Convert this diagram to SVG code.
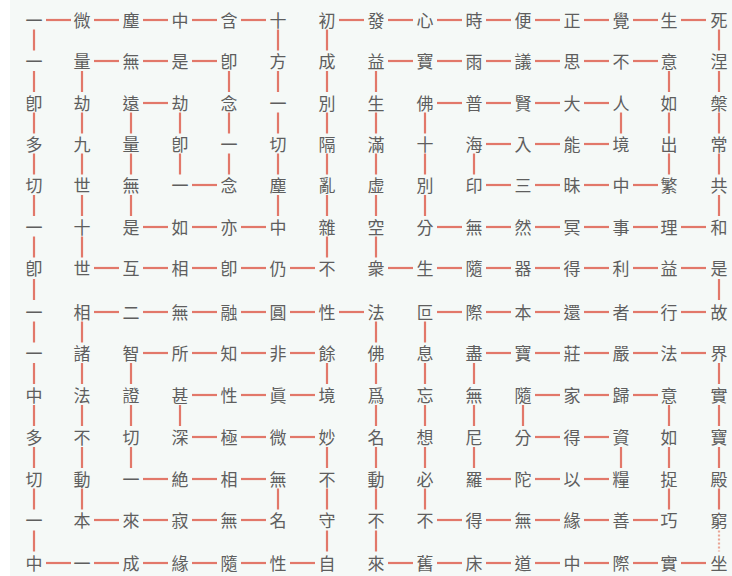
<svg xmlns="http://www.w3.org/2000/svg" width="732" height="576" viewBox="0 0 732 576">
<style>
text{font-family:"Noto Sans CJK TC","Noto Sans CJK SC",sans-serif;font-size:17px;fill:#5e5e5e;text-anchor:middle}
.c path{stroke:#e2786a;stroke-width:2.2;fill:none}
.c path.d{stroke-dasharray:2 2;stroke:#e9a595}
</style>
<rect x="0" y="0" width="732" height="576" fill="#ffffff"/>
<rect x="10" y="0" width="722" height="576" fill="#f5f9f7"/>
<g class="c" id="connectors">
<path d="M94 312h25"/><path d="M143 312h25"/><path d="M192 312h25"/><path d="M241 312h25"/><path d="M290 312h25"/><path d="M339 312h25"/>
<path d="M82 321.5v21"/><path d="M82 363v21"/><path d="M82 405v21"/><path d="M82 447v21"/><path d="M82 488.5v21"/>
<path d="M94 520h25"/><path d="M143 520h25"/><path d="M192 520h25"/><path d="M241 520h25"/>
<path d="M278 488.5v21"/>
<path d="M143 479h25"/><path d="M192 479h25"/><path d="M241 479h25"/>
<path d="M131 363v21"/><path d="M131 405v21"/><path d="M131 447v21"/>
<path d="M143 353h25"/><path d="M192 353h25"/><path d="M241 353h25"/><path d="M290 353h25"/>
<path d="M327 363v21"/>
<path d="M192 395h25"/><path d="M241 395h25"/><path d="M290 395h25"/>
<path d="M180 405v21"/>
<path d="M192 437h25"/><path d="M241 437h25"/><path d="M290 437h25"/>
<path d="M327 447v21"/><path d="M327 488.5v21"/><path d="M327 530.5v21"/>
<path d="M46 563h25"/><path d="M94 563h25"/><path d="M143 563h25"/><path d="M192 563h25"/><path d="M241 563h25"/><path d="M290 563h25"/>
<path d="M34 29.5v21"/><path d="M34 71v21"/><path d="M34 112.5v21"/><path d="M34 153.5v21"/><path d="M34 195v21"/><path d="M34 236.5v21"/><path d="M34 279v21"/><path d="M34 321.5v21"/><path d="M34 363v21"/><path d="M34 405v21"/><path d="M34 447v21"/><path d="M34 488.5v21"/><path d="M34 530.5v21"/>
<path d="M46 20h25"/><path d="M94 20h25"/><path d="M143 20h25"/><path d="M192 20h25"/><path d="M241 20h25"/>
<path d="M278 29.5v21"/><path d="M278 71v21"/><path d="M278 112.5v21"/><path d="M278 153.5v21"/><path d="M278 195v21"/>
<path d="M143 227h25"/><path d="M192 227h25"/><path d="M241 227h25"/>
<path d="M131 112.5v21"/><path d="M131 153.5v21"/><path d="M131 195v21"/>
<path d="M143 103h25"/>
<path d="M180 112.5v21"/><path d="M180 153.5v21"/>
<path d="M192 185h25"/>
<path d="M229 71v21"/><path d="M229 112.5v21"/><path d="M229 153.5v21"/>
<path d="M94 61h25"/><path d="M143 61h25"/><path d="M192 61h25"/>
<path d="M82 71v21"/><path d="M82 112.5v21"/><path d="M82 153.5v21"/><path d="M82 195v21"/><path d="M82 236.5v21"/>
<path d="M94 268h25"/><path d="M143 268h25"/><path d="M192 268h25"/><path d="M241 268h25"/><path d="M290 268h25"/>
<path d="M327 29.5v21"/><path d="M327 71v21"/><path d="M327 112.5v21"/><path d="M327 153.5v21"/><path d="M327 195v21"/><path d="M327 236.5v21"/>
<path d="M339 20h25"/><path d="M388 20h25"/><path d="M437 20h25"/><path d="M486 20h25"/><path d="M535 20h25"/><path d="M584 20h25"/><path d="M633 20h25"/><path d="M681 20h25"/>
<path d="M719 29.5v21"/><path d="M719 71v21"/><path d="M719 112.5v21"/><path d="M719 153.5v21"/><path d="M719 195v21"/>
<path d="M437 227h25"/><path d="M486 227h25"/><path d="M535 227h25"/><path d="M584 227h25"/><path d="M633 227h25"/><path d="M681 227h25"/>
<path d="M425 112.5v21"/><path d="M425 153.5v21"/><path d="M425 195v21"/>
<path d="M437 103h25"/><path d="M486 103h25"/><path d="M535 103h25"/><path d="M584 103h25"/>
<path d="M621 112.5v21"/>
<path d="M486 144h25"/><path d="M535 144h25"/><path d="M584 144h25"/>
<path d="M474 153.5v21"/>
<path d="M486 185h25"/><path d="M535 185h25"/><path d="M584 185h25"/><path d="M633 185h25"/>
<path d="M669 71v21"/><path d="M669 112.5v21"/><path d="M669 153.5v21"/>
<path d="M388 61h25"/><path d="M437 61h25"/><path d="M486 61h25"/><path d="M535 61h25"/><path d="M584 61h25"/><path d="M633 61h25"/>
<path d="M376 71v21"/><path d="M376 112.5v21"/><path d="M376 153.5v21"/><path d="M376 195v21"/><path d="M376 236.5v21"/>
<path d="M388 268h25"/><path d="M437 268h25"/><path d="M486 268h25"/><path d="M535 268h25"/><path d="M584 268h25"/><path d="M633 268h25"/><path d="M681 268h25"/>
<path d="M719 279v21"/>
<path d="M437 312h25"/><path d="M486 312h25"/><path d="M535 312h25"/><path d="M584 312h25"/><path d="M633 312h25"/><path d="M681 312h25"/>
<path d="M425 321.5v21"/><path d="M425 363v21"/><path d="M425 405v21"/><path d="M425 447v21"/><path d="M425 488.5v21"/>
<path d="M437 520h25"/><path d="M486 520h25"/><path d="M535 520h25"/><path d="M584 520h25"/><path d="M633 520h25"/>
<path d="M669 405v21"/><path d="M669 447v21"/><path d="M669 488.5v21"/>
<path d="M535 395h25"/><path d="M584 395h25"/><path d="M633 395h25"/>
<path d="M523 405v21"/>
<path d="M535 437h25"/><path d="M584 437h25"/>
<path d="M621 447v21"/>
<path d="M486 479h25"/><path d="M535 479h25"/><path d="M584 479h25"/>
<path d="M474 363v21"/><path d="M474 405v21"/><path d="M474 447v21"/>
<path d="M486 353h25"/><path d="M535 353h25"/><path d="M584 353h25"/><path d="M633 353h25"/><path d="M681 353h25"/>
<path d="M719 363v21"/><path d="M719 405v21"/><path d="M719 447v21"/><path d="M719 488.5v21"/><path class="d" d="M719 530.5v21"/>
<path d="M388 563h25"/><path d="M437 563h25"/><path d="M486 563h25"/><path d="M535 563h25"/><path d="M584 563h25"/><path d="M633 563h25"/><path d="M681 563h25"/>
<path d="M376 321.5v21"/><path d="M376 363v21"/><path d="M376 405v21"/><path d="M376 447v21"/><path d="M376 488.5v21"/><path d="M376 530.5v21"/>
</g>
<g id="nodes">
<g id="n0-0"><text x="34" y="27">一</text></g><g id="n0-1"><text x="82" y="27">微</text></g><g id="n0-2"><text x="131" y="27">塵</text></g><g id="n0-3"><text x="180" y="27">中</text></g><g id="n0-4"><text x="229" y="27">含</text></g><g id="n0-5"><text x="278" y="27">十</text></g><g id="n0-6"><text x="327" y="27">初</text></g><g id="n0-7"><text x="376" y="27">發</text></g><g id="n0-8"><text x="425" y="27">心</text></g><g id="n0-9"><text x="474" y="27">時</text></g><g id="n0-10"><text x="523" y="27">便</text></g><g id="n0-11"><text x="572" y="27">正</text></g><g id="n0-12"><text x="621" y="27">覺</text></g><g id="n0-13"><text x="669" y="27">生</text></g><g id="n0-14"><text x="719" y="27">死</text></g>
<g id="n1-0"><text x="34" y="68">一</text></g><g id="n1-1"><text x="82" y="68">量</text></g><g id="n1-2"><text x="131" y="68">無</text></g><g id="n1-3"><text x="180" y="68">是</text></g><g id="n1-4"><text x="229" y="68">卽</text></g><g id="n1-5"><text x="278" y="68">方</text></g><g id="n1-6"><text x="327" y="68">成</text></g><g id="n1-7"><text x="376" y="68">益</text></g><g id="n1-8"><text x="425" y="68">寶</text></g><g id="n1-9"><text x="474" y="68">雨</text></g><g id="n1-10"><text x="523" y="68">議</text></g><g id="n1-11"><text x="572" y="68">思</text></g><g id="n1-12"><text x="621" y="68">不</text></g><g id="n1-13"><text x="669" y="68">意</text></g><g id="n1-14"><text x="719" y="68">涅</text></g>
<g id="n2-0"><text x="34" y="110">卽</text></g><g id="n2-1"><text x="82" y="110">劫</text></g><g id="n2-2"><text x="131" y="110">遠</text></g><g id="n2-3"><text x="180" y="110">劫</text></g><g id="n2-4"><text x="229" y="110">念</text></g><g id="n2-5"><text x="278" y="110">一</text></g><g id="n2-6"><text x="327" y="110">別</text></g><g id="n2-7"><text x="376" y="110">生</text></g><g id="n2-8"><text x="425" y="110">佛</text></g><g id="n2-9"><text x="474" y="110">普</text></g><g id="n2-10"><text x="523" y="110">賢</text></g><g id="n2-11"><text x="572" y="110">大</text></g><g id="n2-12"><text x="621" y="110">人</text></g><g id="n2-13"><text x="669" y="110">如</text></g><g id="n2-14"><text x="719" y="110">槃</text></g>
<g id="n3-0"><text x="34" y="151">多</text></g><g id="n3-1"><text x="82" y="151">九</text></g><g id="n3-2"><text x="131" y="151">量</text></g><g id="n3-3"><text x="180" y="151">卽</text></g><g id="n3-4"><text x="229" y="151">一</text></g><g id="n3-5"><text x="278" y="151">切</text></g><g id="n3-6"><text x="327" y="151">隔</text></g><g id="n3-7"><text x="376" y="151">滿</text></g><g id="n3-8"><text x="425" y="151">十</text></g><g id="n3-9"><text x="474" y="151">海</text></g><g id="n3-10"><text x="523" y="151">入</text></g><g id="n3-11"><text x="572" y="151">能</text></g><g id="n3-12"><text x="621" y="151">境</text></g><g id="n3-13"><text x="669" y="151">出</text></g><g id="n3-14"><text x="719" y="151">常</text></g>
<g id="n4-0"><text x="34" y="192">切</text></g><g id="n4-1"><text x="82" y="192">世</text></g><g id="n4-2"><text x="131" y="192">無</text></g><g id="n4-3"><text x="180" y="192">一</text></g><g id="n4-4"><text x="229" y="192">念</text></g><g id="n4-5"><text x="278" y="192">塵</text></g><g id="n4-6"><text x="327" y="192">亂</text></g><g id="n4-7"><text x="376" y="192">虚</text></g><g id="n4-8"><text x="425" y="192">別</text></g><g id="n4-9"><text x="474" y="192">印</text></g><g id="n4-10"><text x="523" y="192">三</text></g><g id="n4-11"><text x="572" y="192">昧</text></g><g id="n4-12"><text x="621" y="192">中</text></g><g id="n4-13"><text x="669" y="192">繁</text></g><g id="n4-14"><text x="719" y="192">共</text></g>
<g id="n5-0"><text x="34" y="234">一</text></g><g id="n5-1"><text x="82" y="234">十</text></g><g id="n5-2"><text x="131" y="234">是</text></g><g id="n5-3"><text x="180" y="234">如</text></g><g id="n5-4"><text x="229" y="234">亦</text></g><g id="n5-5"><text x="278" y="234">中</text></g><g id="n5-6"><text x="327" y="234">雜</text></g><g id="n5-7"><text x="376" y="234">空</text></g><g id="n5-8"><text x="425" y="234">分</text></g><g id="n5-9"><text x="474" y="234">無</text></g><g id="n5-10"><text x="523" y="234">然</text></g><g id="n5-11"><text x="572" y="234">冥</text></g><g id="n5-12"><text x="621" y="234">事</text></g><g id="n5-13"><text x="669" y="234">理</text></g><g id="n5-14"><text x="719" y="234">和</text></g>
<g id="n6-0"><text x="34" y="275">卽</text></g><g id="n6-1"><text x="82" y="275">世</text></g><g id="n6-2"><text x="131" y="275">互</text></g><g id="n6-3"><text x="180" y="275">相</text></g><g id="n6-4"><text x="229" y="275">卽</text></g><g id="n6-5"><text x="278" y="275">仍</text></g><g id="n6-6"><text x="327" y="275">不</text></g><g id="n6-7"><text x="376" y="275">衆</text></g><g id="n6-8"><text x="425" y="275">生</text></g><g id="n6-9"><text x="474" y="275">隨</text></g><g id="n6-10"><text x="523" y="275">器</text></g><g id="n6-11"><text x="572" y="275">得</text></g><g id="n6-12"><text x="621" y="275">利</text></g><g id="n6-13"><text x="669" y="275">益</text></g><g id="n6-14"><text x="719" y="275">是</text></g>
<g id="n7-0"><text x="34" y="319">一</text></g><g id="n7-1"><text x="82" y="319">相</text></g><g id="n7-2"><text x="131" y="319">二</text></g><g id="n7-3"><text x="180" y="319">無</text></g><g id="n7-4"><text x="229" y="319">融</text></g><g id="n7-5"><text x="278" y="319">圓</text></g><g id="n7-6"><text x="327" y="319">性</text></g><g id="n7-7"><text x="376" y="319">法</text></g><g id="n7-8"><text x="425" y="319">叵</text></g><g id="n7-9"><text x="474" y="319">際</text></g><g id="n7-10"><text x="523" y="319">本</text></g><g id="n7-11"><text x="572" y="319">還</text></g><g id="n7-12"><text x="621" y="319">者</text></g><g id="n7-13"><text x="669" y="319">行</text></g><g id="n7-14"><text x="719" y="319">故</text></g>
<g id="n8-0"><text x="34" y="360">一</text></g><g id="n8-1"><text x="82" y="360">諸</text></g><g id="n8-2"><text x="131" y="360">智</text></g><g id="n8-3"><text x="180" y="360">所</text></g><g id="n8-4"><text x="229" y="360">知</text></g><g id="n8-5"><text x="278" y="360">非</text></g><g id="n8-6"><text x="327" y="360">餘</text></g><g id="n8-7"><text x="376" y="360">佛</text></g><g id="n8-8"><text x="425" y="360">息</text></g><g id="n8-9"><text x="474" y="360">盡</text></g><g id="n8-10"><text x="523" y="360">寶</text></g><g id="n8-11"><text x="572" y="360">莊</text></g><g id="n8-12"><text x="621" y="360">嚴</text></g><g id="n8-13"><text x="669" y="360">法</text></g><g id="n8-14"><text x="719" y="360">界</text></g>
<g id="n9-0"><text x="34" y="402">中</text></g><g id="n9-1"><text x="82" y="402">法</text></g><g id="n9-2"><text x="131" y="402">證</text></g><g id="n9-3"><text x="180" y="402">甚</text></g><g id="n9-4"><text x="229" y="402">性</text></g><g id="n9-5"><text x="278" y="402">眞</text></g><g id="n9-6"><text x="327" y="402">境</text></g><g id="n9-7"><text x="376" y="402">爲</text></g><g id="n9-8"><text x="425" y="402">忘</text></g><g id="n9-9"><text x="474" y="402">無</text></g><g id="n9-10"><text x="523" y="402">隨</text></g><g id="n9-11"><text x="572" y="402">家</text></g><g id="n9-12"><text x="621" y="402">歸</text></g><g id="n9-13"><text x="669" y="402">意</text></g><g id="n9-14"><text x="719" y="402">實</text></g>
<g id="n10-0"><text x="34" y="444">多</text></g><g id="n10-1"><text x="82" y="444">不</text></g><g id="n10-2"><text x="131" y="444">切</text></g><g id="n10-3"><text x="180" y="444">深</text></g><g id="n10-4"><text x="229" y="444">極</text></g><g id="n10-5"><text x="278" y="444">微</text></g><g id="n10-6"><text x="327" y="444">妙</text></g><g id="n10-7"><text x="376" y="444">名</text></g><g id="n10-8"><text x="425" y="444">想</text></g><g id="n10-9"><text x="474" y="444">尼</text></g><g id="n10-10"><text x="523" y="444">分</text></g><g id="n10-11"><text x="572" y="444">得</text></g><g id="n10-12"><text x="621" y="444">資</text></g><g id="n10-13"><text x="669" y="444">如</text></g><g id="n10-14"><text x="719" y="444">寶</text></g>
<g id="n11-0"><text x="34" y="486">切</text></g><g id="n11-1"><text x="82" y="486">動</text></g><g id="n11-2"><text x="131" y="486">一</text></g><g id="n11-3"><text x="180" y="486">絶</text></g><g id="n11-4"><text x="229" y="486">相</text></g><g id="n11-5"><text x="278" y="486">無</text></g><g id="n11-6"><text x="327" y="486">不</text></g><g id="n11-7"><text x="376" y="486">動</text></g><g id="n11-8"><text x="425" y="486">必</text></g><g id="n11-9"><text x="474" y="486">羅</text></g><g id="n11-10"><text x="523" y="486">陀</text></g><g id="n11-11"><text x="572" y="486">以</text></g><g id="n11-12"><text x="621" y="486">糧</text></g><g id="n11-13"><text x="669" y="486">捉</text></g><g id="n11-14"><text x="719" y="486">殿</text></g>
<g id="n12-0"><text x="34" y="527">一</text></g><g id="n12-1"><text x="82" y="527">本</text></g><g id="n12-2"><text x="131" y="527">來</text></g><g id="n12-3"><text x="180" y="527">寂</text></g><g id="n12-4"><text x="229" y="527">無</text></g><g id="n12-5"><text x="278" y="527">名</text></g><g id="n12-6"><text x="327" y="527">守</text></g><g id="n12-7"><text x="376" y="527">不</text></g><g id="n12-8"><text x="425" y="527">不</text></g><g id="n12-9"><text x="474" y="527">得</text></g><g id="n12-10"><text x="523" y="527">無</text></g><g id="n12-11"><text x="572" y="527">緣</text></g><g id="n12-12"><text x="621" y="527">善</text></g><g id="n12-13"><text x="669" y="527">巧</text></g><g id="n12-14"><text x="719" y="527">窮</text></g>
<g id="n13-0"><text x="34" y="570">中</text></g><g id="n13-1"><text x="82" y="570">一</text></g><g id="n13-2"><text x="131" y="570">成</text></g><g id="n13-3"><text x="180" y="570">緣</text></g><g id="n13-4"><text x="229" y="570">隨</text></g><g id="n13-5"><text x="278" y="570">性</text></g><g id="n13-6"><text x="327" y="570">自</text></g><g id="n13-7"><text x="376" y="570">來</text></g><g id="n13-8"><text x="425" y="570">舊</text></g><g id="n13-9"><text x="474" y="570">床</text></g><g id="n13-10"><text x="523" y="570">道</text></g><g id="n13-11"><text x="572" y="570">中</text></g><g id="n13-12"><text x="621" y="570">際</text></g><g id="n13-13"><text x="669" y="570">實</text></g><g id="n13-14"><text x="719" y="570">坐</text></g>
</g>
</svg>
